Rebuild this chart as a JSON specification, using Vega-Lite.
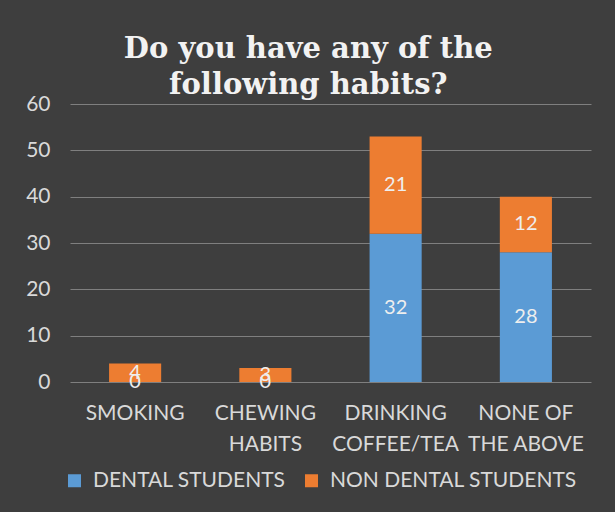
{
  "$schema": "https://vega.github.io/schema/vega-lite/v6.json",
  "autosize": "none",
  "width": 521,
  "height": 278,
  "padding": {"left": 70, "top": 104, "right": 24, "bottom": 130},
  "background": "#3e3e3e",
  "config": {
    "view": {"stroke": null},
    "font": "Lato"
  },
  "title": {
    "text": ["Do you have any of the", "following habits?"],
    "font": "DejaVu Serif",
    "fontSize": 29,
    "fontWeight": "bold",
    "color": "#f2f2f2",
    "lineHeight": 36,
    "anchor": "middle",
    "frame": "bounds",
    "offset": -7
  },
  "data": {
    "values": [
      {"habit": "SMOKING", "group": "DENTAL STUDENTS", "order": 1, "value": 0},
      {"habit": "SMOKING", "group": "NON DENTAL STUDENTS", "order": 2, "value": 4},
      {"habit": "CHEWING HABITS", "group": "DENTAL STUDENTS", "order": 1, "value": 0},
      {"habit": "CHEWING HABITS", "group": "NON DENTAL STUDENTS", "order": 2, "value": 3},
      {"habit": "DRINKING COFFEE/TEA", "group": "DENTAL STUDENTS", "order": 1, "value": 32},
      {"habit": "DRINKING COFFEE/TEA", "group": "NON DENTAL STUDENTS", "order": 2, "value": 21},
      {"habit": "NONE OF THE ABOVE", "group": "DENTAL STUDENTS", "order": 1, "value": 28},
      {"habit": "NONE OF THE ABOVE", "group": "NON DENTAL STUDENTS", "order": 2, "value": 12}
    ]
  },
  "encoding": {
    "x": {
      "field": "habit",
      "type": "nominal",
      "sort": ["SMOKING", "CHEWING HABITS", "DRINKING COFFEE/TEA", "NONE OF THE ABOVE"],
      "scale": {"paddingInner": 0.6, "paddingOuter": 0.3},
      "axis": {
        "title": null,
        "labelAngle": 0,
        "domain": false,
        "ticks": false,
        "labelPadding": 20,
        "labelFontSize": 21,
        "labelColor": "#d9d9d9",
        "labelLineHeight": 31,
        "labelExpr": "datum.value == 'NONE OF THE ABOVE' ? ['NONE OF', 'THE ABOVE'] : split(datum.value, ' ')"
      }
    },
    "y": {
      "field": "value",
      "type": "quantitative",
      "stack": "zero",
      "scale": {"domain": [0, 60]},
      "axis": {
        "title": null,
        "values": [0, 10, 20, 30, 40, 50, 60],
        "domain": false,
        "ticks": false,
        "labelPadding": 20,
        "labelFontSize": 21,
        "labelColor": "#d9d9d9",
        "gridColor": "#7f7f7f",
        "gridWidth": 1.2
      }
    },
    "order": {"field": "order", "type": "quantitative"}
  },
  "layer": [
    {
      "mark": {"type": "bar"},
      "encoding": {
        "color": {
          "field": "group",
          "type": "nominal",
          "scale": {
            "domain": ["DENTAL STUDENTS", "NON DENTAL STUDENTS"],
            "range": ["#5b9bd5", "#ed7d31"]
          },
          "legend": {
            "title": null,
            "orient": "none",
            "direction": "horizontal",
            "legendX": -6,
            "legendY": 366,
            "symbolType": "square",
            "symbolSize": 169,
            "symbolStrokeWidth": 0,
            "symbolOpacity": 1,
            "labelFontSize": 21,
            "labelColor": "#d9d9d9",
            "labelOffset": 8,
            "columnPadding": 15,
            "labelLimit": 400
          }
        }
      }
    },
    {
      "mark": {"type": "text", "fontSize": 20, "color": "#eeeeee", "baseline": "middle"},
      "encoding": {
        "y": {"field": "value", "type": "quantitative", "stack": "zero", "bandPosition": 0.5},
        "text": {"field": "value", "type": "quantitative"}
      }
    }
  ]
}
